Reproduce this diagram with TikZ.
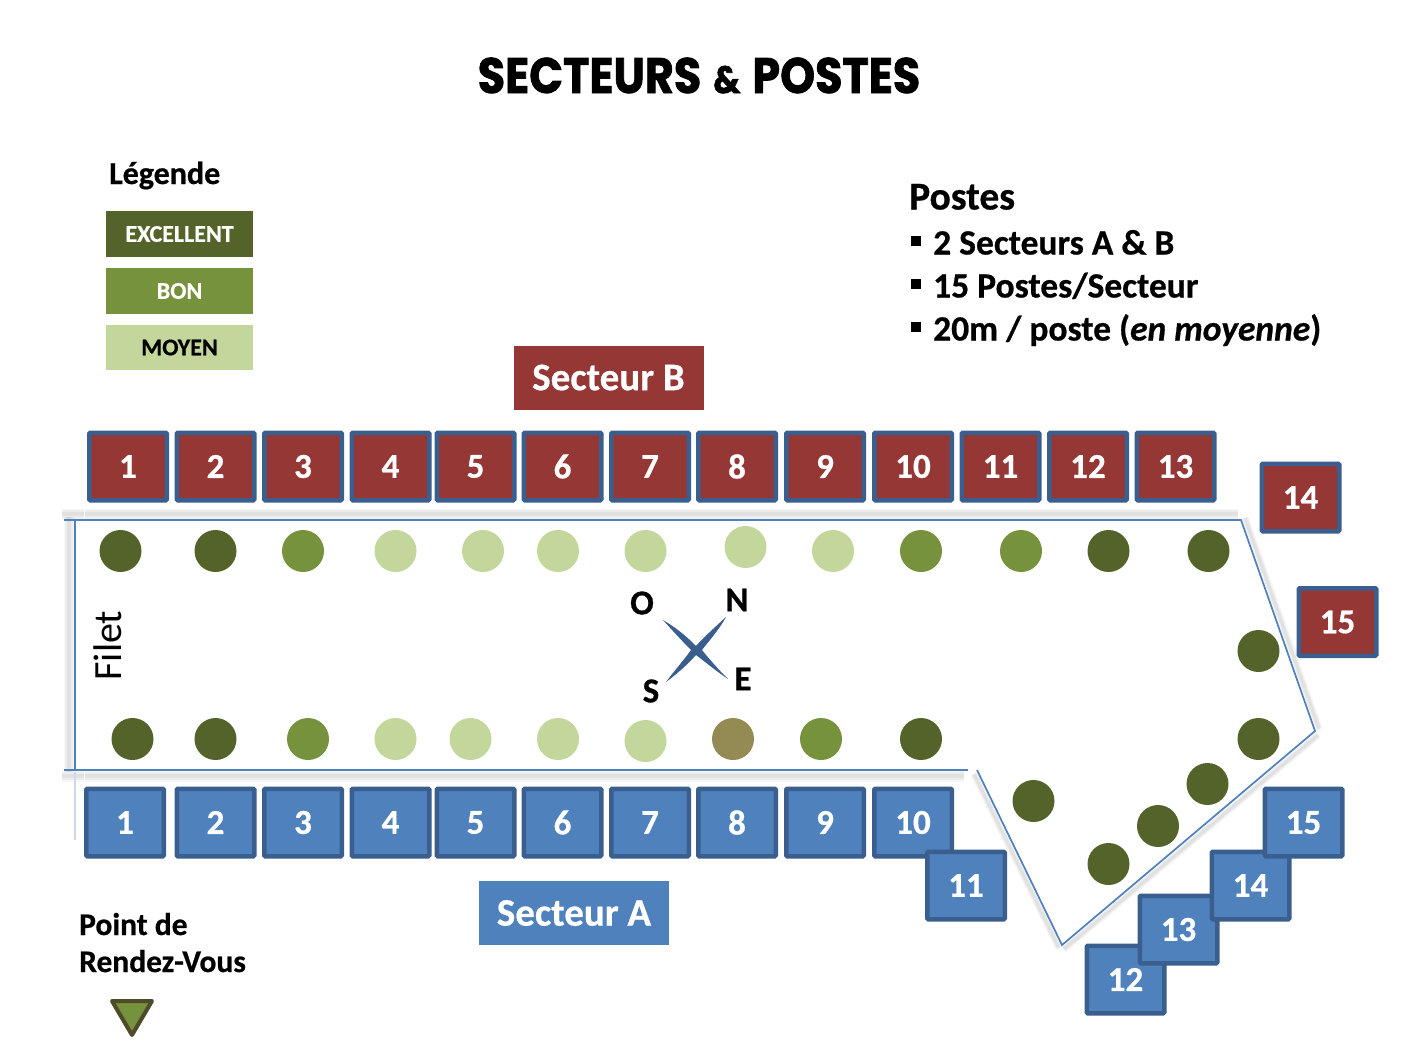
\documentclass[tikz,border=0pt]{standalone}
\usepackage{fontspec}
\setmainfont[BoldFeatures={FakeBold=0.6},BoldItalicFeatures={FakeBold=0.6}]{Carlito}
\newfontfamily\titlefont[BoldFeatures={FakeBold=1.5}]{Poppins}
\definecolor{redfill}{HTML}{953735}
\definecolor{bluefill}{HTML}{4F81BD}
\definecolor{boxline}{HTML}{3A5F8F}
\definecolor{netline}{HTML}{4F81BD}
\definecolor{dotdark}{HTML}{546329}
\definecolor{dotmid}{HTML}{76923C}
\definecolor{dotlight}{HTML}{C3D69B}
\definecolor{dotbrown}{HTML}{948A54}
\definecolor{triline}{HTML}{4F4A2A}
\newcommand{\fsz}[1]{\fontsize{#1}{#1}\selectfont}
\newcommand{\softpath}[3][5]{%
  \draw[black,opacity=.03,line width=#1*2.2pt] #2 -- #3;
  \draw[black,opacity=.04,line width=#1*1.5pt] #2 -- #3;
  \draw[black,opacity=.05,line width=#1*0.9pt] #2 -- #3;}
\tikzset{
  post/.style={draw=boxline,line width=4.5pt,minimum width=77.5pt,minimum height=67.5pt,inner sep=0pt,rounded corners=1pt,text=white,font=\fsz{35}\bfseries},
  redpost/.style={post,fill=redfill},
  bluepost/.style={post,fill=bluefill},
  sector/.style={minimum width=190pt,minimum height=64pt,inner sep=0pt,text=white,font=\fsz{39}\bfseries},
  legendbox/.style={minimum width=147.5pt,minimum height=45.5pt,inner sep=0pt,font=\fsz{24}\bfseries},
  dot/.style={circle,minimum size=42pt,inner sep=0pt},
  dk/.style={dot,fill=dotdark},
  md/.style={dot,fill=dotmid},
  lt/.style={dot,fill=dotlight},
  br/.style={dot,fill=dotbrown},
  netedge/.style={draw=netline,line width=1.7pt},
  txt/.style={anchor=base west,inner sep=0pt},
  listbullet/.style={fill=black,minimum size=9.5pt,inner sep=0pt}
}
\begin{document}
\begin{tikzpicture}[x=1pt,y=-1pt]
\useasboundingbox (0,0) rectangle (1407,1057);
% title
\node[anchor=base,inner sep=0pt,yscale=1.12,transform shape,font=\titlefont\fsz{44.5}\bfseries] (title) at (699,93) {SECTEURS\hspace{12pt}{\fsz{34}\&}\hspace{12pt}POSTES};
% legend
\node[txt,font=\fsz{32}\bfseries] (leg) at (109,184) {Légende};
\node[legendbox,fill=dotdark,text=white] (lexc) at (179.5,234) {EXCELLENT};
\node[legendbox,fill=dotmid,text=white] (lbon) at (179.5,291) {BON};
\node[legendbox,fill=dotlight,text=black] (lmoy) at (179.5,347.5) {MOYEN};
% postes text
\node[txt,font=\fsz{39.5}\bfseries] (ptitle) at (909,209.5) {Postes};
\node[listbullet] (b1) at (916,241) {};
\node[listbullet] (b2) at (916,284) {};
\node[listbullet] (b3) at (916,327) {};
\node[txt,font=\fsz{35.5}\bfseries] (l1) at (933,254.5) {2 Secteurs A \& B};
\node[txt,font=\fsz{35.5}\bfseries] (l2) at (933,297.5) {15 Postes/Secteur};
\node[txt,font=\fsz{35.5}\bfseries] (l3) at (933,340.5) {20m / poste (\textit{en moyenne})};
% sectors
\node[sector,fill=redfill] (secB) at (608.5,377.5) {Secteur B};
\node[sector,fill=bluefill] (secA) at (574,913) {Secteur A};
% net
\coordinate (n1) at (64,520);
\coordinate (n2) at (1241,520);
\coordinate (n3) at (1315,731);
\coordinate (n4) at (1062,945);
\coordinate (n5) at (977,770);
\coordinate (n6) at (968,770);
\coordinate (n7) at (64,770);
\coordinate (v1) at (75,520);
\coordinate (v2) at (75,770);
% soft shadows of the net
\softpath{(62,514)}{(1238,514)}
\softpath{(69,517)}{(69,772)}
\softpath{(62,776)}{(964,776)}
\softpath[3.5]{(974,774)}{(1059,948)}
\softpath[3.5]{(1064,949)}{(1318,735)}
\softpath[3.5]{(1245,518)}{(1319,729)}
\draw[white,line width=1pt] (84,506) -- (84,530);
\draw[white,line width=1pt] (84,762) -- (84,785);
% net
\draw[netedge] (n1) -- (n2) -- (n3) -- (n4) -- (n5);
\draw[netedge] (n6) -- (n7);
\draw[netedge] (v1) -- (v2);
\draw[netline!30,line width=1.5pt] (75,772) -- (75,840);
\node[rotate=90,anchor=base,inner sep=0pt,font=\fsz{40}] (filet) at (121.5,645.5) {Filet};
% red posts
\foreach \n/\x in {1/128,2/215.5,3/303,4/390.5,5/475.5,6/562.5,7/650,8/737,9/825,10/913,11/1000.5,12/1088,13/1175.5}
  \node[redpost] (r\n) at (\x,466.5) {\n};
\node[redpost] (r14) at (1300.5,497.5) {14};
\node[redpost] (r15) at (1337.5,622) {15};
% blue posts
\foreach \n/\x in {1/125,2/215.5,3/303,4/390.5,5/475.5,6/562.5,7/650,8/737,9/825,10/913}
  \node[bluepost] (a\n) at (\x,822.5) {\n};
\node[bluepost] (a11) at (966,885.5) {11};
\node[bluepost] (a12) at (1125.5,979.5) {12};
\node[bluepost] (a13) at (1178.5,929.5) {13};
\node[bluepost] (a14) at (1250.5,885.5) {14};
\node[bluepost] (a15) at (1303.5,822.5) {15};
% dots top
\foreach \i/\x/\y/\s in {1/120.5/551/dk,2/215.5/551/dk,3/303/551/md,4/395.5/551/lt,5/483/551/lt,6/558/551/lt,7/645.5/551/lt,8/745.5/547/lt,9/833/551/lt,10/921/551/md,11/1021/551/md,12/1108.5/551/dk,13/1208.5/551/dk,14/1258.5/651/dk,15/1258.5/739/dk}
  \node[\s] (dt\i) at (\x,\y) {};
% dots bottom
\foreach \i/\x/\y/\s in {1/132.5/739/dk,2/215.5/739/dk,3/308/739/md,4/395.5/739/lt,5/470.5/739/lt,6/558/739/lt,7/645.5/741/lt,8/733/739/br,9/821/739/md,10/921/739/dk,11/1033.5/801/dk,12/1108.5/864/dk,13/1158/826/dk,14/1207.5/784/dk}
  \node[\s] (db\i) at (\x,\y) {};
% compass
\fill[boxline] (663,620) .. controls (680,630) and (690,640) .. (696,646)
  .. controls (703,638) and (714,628) .. (726,617)
  .. controls (719,630) and (708,642) .. (702,650)
  .. controls (710,660) and (719,670) .. (728,679)
  .. controls (716,671) and (704,661) .. (696,655)
  .. controls (688,664) and (677,674) .. (666,682)
  .. controls (674,671) and (684,660) .. (691,650)
  .. controls (682,641) and (672,630) .. (663,620) -- cycle;
\node[font=\fsz{35}\bfseries,inner sep=0pt] (cO) at (642,603) {O};
\node[font=\fsz{35}\bfseries,inner sep=0pt] (cN) at (737,600) {N};
\node[font=\fsz{35}\bfseries,inner sep=0pt] (cS) at (651,691) {S};
\node[font=\fsz{35}\bfseries,inner sep=0pt] (cE) at (743,679) {E};
% rendez-vous
\node[txt,font=\fsz{31.5}\bfseries] (pr1) at (79,935) {Point de};
\node[txt,font=\fsz{31.5}\bfseries] (pr2) at (79,972) {Rendez-Vous};
\draw[fill=dotmid,draw=triline,line width=4pt,line join=round] (112,1001) -- (152,1001) -- (132,1035) -- cycle;
\end{tikzpicture}
\end{document}
